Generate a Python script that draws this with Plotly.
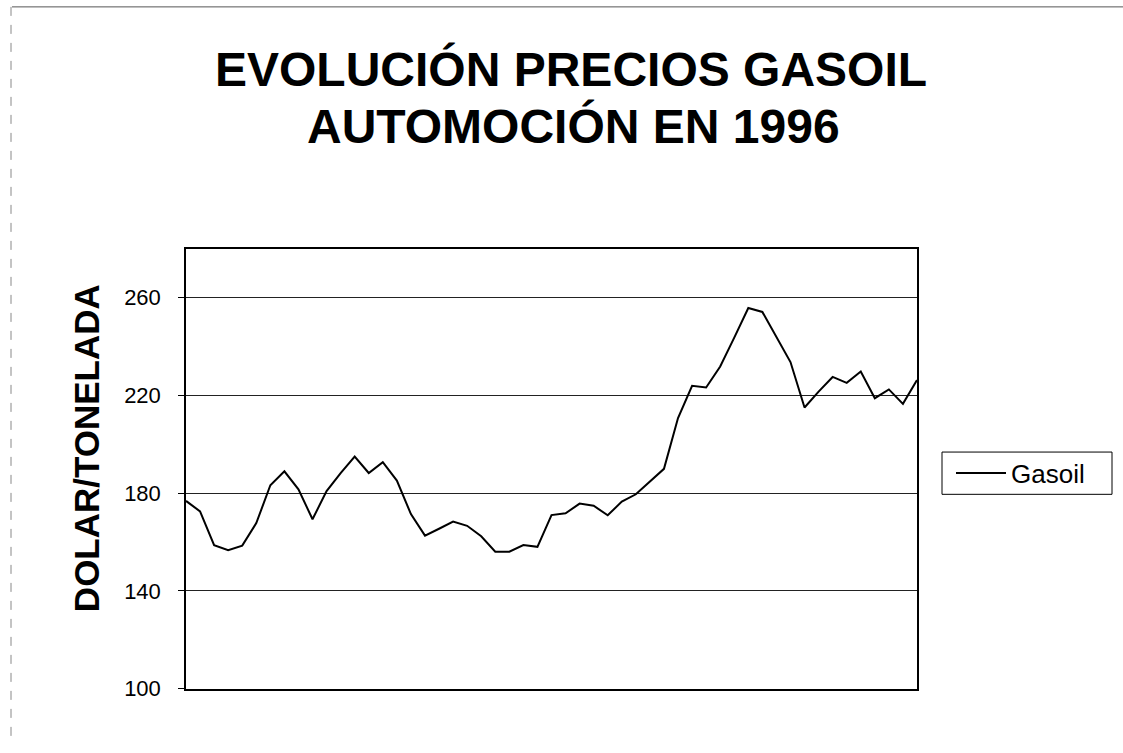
import plotly.graph_objects as go

# Weekly gasoil prices 1996 (USD per tonne)
semanas = list(range(1, 54))
gasoil = [176.8, 172.5, 158.7, 156.6, 158.5, 167.7, 183.2, 188.9, 181.5, 169.3,
          180.8, 188.2, 194.9, 188.2, 192.6, 185.1, 171.4, 162.6, 165.4, 168.3,
          166.6, 162.3, 156.0, 156.0, 158.7, 158.0, 171.0, 171.7, 175.7, 174.8,
          170.9, 176.5, 179.5, 184.8, 189.9, 210.7, 223.9, 223.2, 231.8, 243.6,
          255.7, 254.1, 243.9, 233.6, 215.0, 221.5, 227.5, 225.1, 229.7, 218.8,
          222.4, 216.5, 226.2]
y_ticks = [100, 140, 180, 220, 260]

W, H = 1123, 753
FONT = "Liberation Sans, Arial, Helvetica, sans-serif"

fig = go.Figure()
fig.add_trace(go.Scatter(
    x=semanas, y=gasoil, mode="lines", name="Gasoil",
    line=dict(color="black", width=2),
))

fig.update_layout(
    width=W, height=H,
    margin=dict(l=0, r=0, t=0, b=0),
    paper_bgcolor="white", plot_bgcolor="white",
    font=dict(family=FONT, color="black"),
    showlegend=True,
    legend=dict(
        x=951 / W, y=1 - 481.5 / H, xanchor="left", yanchor="middle",
        borderwidth=0, bgcolor="rgba(0,0,0,0)",
        font=dict(size=26, family=FONT, color="black"),
        itemwidth=50,
    ),
    xaxis=dict(
        domain=[186 / W, 917 / W],
        range=[1, 53],
        showticklabels=False, ticks="",
        showgrid=False, zeroline=False,
        showline=True, linecolor="black", linewidth=1.5, mirror=True,
    ),
    yaxis=dict(
        domain=[1 - 700.7 / H, 1 - 253 / H],
        range=[100, 280],
        tickvals=y_ticks,
        ticks="outside", ticklen=6, tickcolor="black",
        ticklabelstandoff=13,
        tickfont=dict(size=22, family=FONT, color="black"),
        showgrid=True, gridcolor="#222222", gridwidth=1,
        zeroline=False,
        showline=True, linecolor="black", linewidth=1.5, mirror=True,
    ),
    annotations=[
        dict(text="<b>EVOLUCIÓN PRECIOS GASOIL</b>", x=571 / W, y=1 - 70 / H,
             xref="paper", yref="paper", xanchor="center", yanchor="middle",
             showarrow=False, font=dict(size=48, family=FONT, color="black")),
        dict(text="<b>AUTOMOCIÓN EN 1996</b>", x=573 / W, y=1 - 128 / H,
             xref="paper", yref="paper", xanchor="center", yanchor="middle",
             showarrow=False, font=dict(size=48, family=FONT, color="black")),
        dict(text="<b>DOLAR/TONELADA</b>", x=86 / W, y=1 - 456 / H,
             xref="paper", yref="paper", xanchor="center", yanchor="middle",
             textangle=-90, showarrow=False,
             font=dict(size=35, family=FONT, color="black")),
    ],
    shapes=[
        # page frame remnants
        dict(type="line", xref="paper", yref="paper",
             x0=12 / W, x1=1, y0=1 - 7 / H, y1=1 - 7 / H,
             line=dict(color="#555555", width=1)),
        dict(type="line", xref="paper", yref="paper",
             x0=11 / W, x1=11 / W, y0=1 - 7 / H, y1=0,
             line=dict(color="#888888", width=1, dash="dash")),
        # legend box
        dict(type="rect", xref="paper", yref="paper",
             x0=942 / W, x1=1112 / W, y0=1 - 503 / H, y1=1 - 460 / H,
             line=dict(color="black", width=1)),
    ],
)

fig.write_html("out.html", config={"displayModeBar": False},
               post_script="document.body.style.margin='0';")
